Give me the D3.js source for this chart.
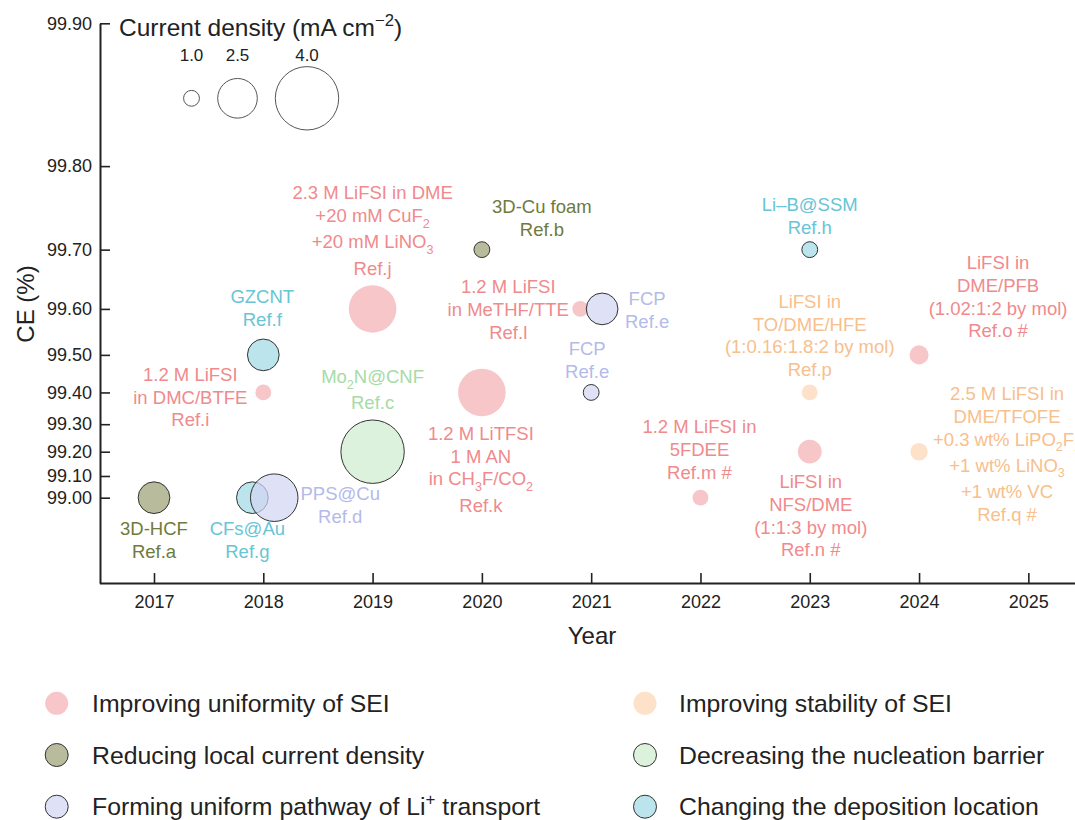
<!DOCTYPE html>
<html>
<head>
<meta charset="utf-8">
<script src="https://cdn.jsdelivr.net/npm/d3@7"></script>
<style>
  body { margin: 0; background: #fff; }
  svg { font-family: "Liberation Sans", Arial, sans-serif; }
</style>
</head>
<body>
<svg id="chart" width="1075" height="820"></svg>
<script>
// groups (legend order)
var groups = [
  "Improving uniformity of SEI",
  "Reducing local current density",
  "Forming uniform pathway of Li^{+} transport",
  "Improving stability of SEI",
  "Decreasing the nucleation barrier",
  "Changing the deposition location"
];
var groupFill   = ["#f4aeb2", "#9b9e74", "#d1d4f4", "#fcd4b0", "#cdeccd", "#9fd8e4"];
var groupText   = ["#f08a8c", "#6f7a3c", "#b4baea", "#f7c08c", "#a6dba6", "#67c5d6"];
var groupStroke = [false, true, true, false, true, true];

// one entry per reference
var years   = [2018, 2019, 2020, 2020.9, 2022, 2023, 2024, 2023, 2024, 2017, 2020, 2019, 2017.9, 2018.1, 2021.1, 2021, 2018, 2023];
var ceVals  = [99.40, 99.60, 99.40, 99.60, 99.00, 99.20, 99.50, 99.40, 99.20, 99.00, 99.70, 99.20, 99.00, 99.00, 99.60, 99.40, 99.50, 99.70];
var current = [1.0, 3.0, 3.0, 1.0, 1.0, 1.5, 1.2, 1.0, 1.1, 2.0, 1.0, 4.0, 2.0, 3.0, 2.0, 1.0, 2.0, 1.0];
var groupOf = [0, 0, 0, 0, 0, 0, 0, 3, 3, 1, 1, 4, 5, 2, 2, 2, 5, 5];
var labels = [
  ["1.2 M LiFSI", "in DMC/BTFE", "Ref.i"],
  ["2.3 M LiFSI in DME", "+20 mM CuF_{2}", "+20 mM LiNO_{3}", "Ref.j"],
  ["1.2 M LiTFSI", "1 M AN", "in CH_{3}F/CO_{2}", "Ref.k"],
  ["1.2 M LiFSI", "in MeTHF/TTE", "Ref.l"],
  ["1.2 M LiFSI in", "5FDEE", "Ref.m #"],
  ["LiFSI in", "NFS/DME", "(1:1:3 by mol)", "Ref.n #"],
  ["LiFSI in", "DME/PFB", "(1.02:1:2 by mol)", "Ref.o #"],
  ["LiFSI in", "TO/DME/HFE", "(1:0.16:1.8:2 by mol)", "Ref.p"],
  ["2.5 M LiFSI in", "DME/TFOFE", "+0.3 wt% LiPO_{2}F_{2}", "+1 wt% LiNO_{3}", "+1 wt% VC", "Ref.q #"],
  ["3D-HCF", "Ref.a"],
  ["3D-Cu foam", "Ref.b"],
  ["Mo_{2}N@CNF", "Ref.c"],
  ["CFs@Au", "Ref.g"],
  ["PPS@Cu", "Ref.d"],
  ["FCP", "Ref.e"],
  ["FCP", "Ref.e"],
  ["GZCNT", "Ref.f"],
  ["Li\u2013B@SSM", "Ref.h"]
];
// label placement, px offset of first line centre from the bubble
var labelOffset = [
  [-73, -18], [0, -116], [-1, 41], [-72, -22], [-1, -71], [1, 30], [79, -92], [0, -91], [88, -58],
  [0, 31], [60, -43], [0, -75], [-5, 31], [66, -4], [45, -10], [-4, -44], [-1, -58], [0, -45]
];

var yearTicks = [2017, 2018, 2019, 2020, 2021, 2022, 2023, 2024, 2025];
var ceTicks = [99.00, 99.10, 99.20, 99.30, 99.40, 99.50, 99.60, 99.70, 99.80, 99.90];
var sizeLegend = [1.0, 2.5, 4.0];

var svg = d3.select("#chart");

// y is log of (100 - CE)
var yLog = d3.scaleLog().domain([0.1, 1.513]).range([23.3, 583]);
var y = function(v) { return yLog(100 - v); };
var x = d3.scaleLinear().domain([2016.5, 2025.5]).range([99.35, 1083]);
var r = d3.scaleLinear().domain([0, 4]).range([0, 31.7]);

var x0 = 100, yBase = 583;
var labelSize = 18.5;

// rich text: _{sub} and ^{sup}
function rich(textSel, str, size) {
  var parts = str.split(/(_\{[^}]*\}|\^\{[^}]*\})/);
  var shift = 0;
  parts.forEach(function(p) {
    if (!p) return;
    var t = textSel.append("tspan");
    if (p[0] == "_" || p[0] == "^") {
      var want = p[0] == "_" ? size * 0.3 : -size * 0.4;
      t.attr("font-size", size * 0.68).attr("dy", want - shift).text(p.slice(2, -1));
      shift = want;
    } else {
      if (shift != 0) t.attr("dy", -shift);
      shift = 0;
      t.text(p);
    }
  });
}

// axes
var yAxis = d3.axisLeft(yLog)
  .tickValues(ceTicks.map(function(d) { return 100 - d; }))
  .tickFormat(function(d) { return (100 - d).toFixed(2); })
  .tickSize(-10).tickSizeOuter(0).tickPadding(8);
var gy = svg.append("g").attr("transform", "translate(" + x0 + ",0)").call(yAxis);

var xAxis = d3.axisBottom(x).tickValues(yearTicks).tickFormat(d3.format("d"))
  .tickSize(-10).tickSizeOuter(0).tickPadding(12);
var gx = svg.append("g").attr("transform", "translate(0," + yBase + ")").call(xAxis);

[gy, gx].forEach(function(g) {
  g.select(".domain").attr("stroke", "#222").attr("stroke-width", 2);
  g.selectAll(".tick line").attr("stroke", "#222").attr("stroke-width", 1.6);
  g.selectAll(".tick text").attr("fill", "#222").attr("font-size", 18)
    .attr("font-family", "Liberation Sans, Arial, sans-serif");
});

svg.append("text").attr("transform", "translate(34,304) rotate(-90)")
  .attr("text-anchor", "middle").attr("font-size", 24).attr("fill", "#222").text("CE (%)");
svg.append("text").attr("x", 592).attr("y", 644)
  .attr("text-anchor", "middle").attr("font-size", 24).attr("fill", "#222").text("Year");

// bubble size legend
var title = svg.append("text").attr("x", 119).attr("y", 36).attr("font-size", 24.5).attr("fill", "#222");
rich(title, "Current density (mA cm^{\u22122})", 24.5);

var sizeX = [191.5, 237.5, 307];
sizeLegend.forEach(function(d, i) {
  svg.append("circle").attr("cx", sizeX[i]).attr("cy", 98.3).attr("r", r(d))
    .attr("fill", "none").attr("stroke", "#555").attr("stroke-width", 1);
  svg.append("text").attr("x", sizeX[i]).attr("y", 61).attr("text-anchor", "middle")
    .attr("font-size", 17).attr("fill", "#222").text(d.toFixed(1));
});

// bubbles
var plot = svg.append("g");
years.forEach(function(yr, i) {
  var g = groupOf[i];
  plot.append("circle")
    .attr("cx", x(yr)).attr("cy", y(ceVals[i])).attr("r", r(current[i]))
    .attr("fill", groupFill[g]).attr("fill-opacity", 0.7)
    .attr("stroke", groupStroke[g] ? "#333" : "none").attr("stroke-width", 1);
});

// labels
years.forEach(function(yr, i) {
  var g = groupOf[i];
  var cx = x(yr) + labelOffset[i][0];
  var cy = y(ceVals[i]) + labelOffset[i][1];
  var prevSub = false;
  labels[i].forEach(function(line, k) {
    if (k > 0) cy += 22.7 + (prevSub ? 3.5 : 0);
    var t = plot.append("text").attr("x", cx).attr("y", cy + 6.5)
      .attr("text-anchor", "middle").attr("font-size", labelSize).attr("fill", groupText[g]);
    rich(t, line, labelSize);
    prevSub = line.indexOf("_{") >= 0;
  });
});

// category legend
var legY = [703.3, 755, 806.7];
groups.forEach(function(name, i) {
  var col = i < 3 ? 0 : 1;
  var row = i % 3;
  var lx = col == 0 ? 56.7 : 645;
  var tx = col == 0 ? 92 : 679;
  svg.append("circle").attr("cx", lx).attr("cy", legY[row]).attr("r", 11.5)
    .attr("fill", groupFill[i]).attr("fill-opacity", 0.7)
    .attr("stroke", groupStroke[i] ? "#333" : "none").attr("stroke-width", 1);
  var t = svg.append("text").attr("x", tx).attr("y", legY[row] + 8.5)
    .attr("font-size", 24.8).attr("fill", "#222");
  rich(t, name, 24.8);
});
</script>
</body>
</html>
